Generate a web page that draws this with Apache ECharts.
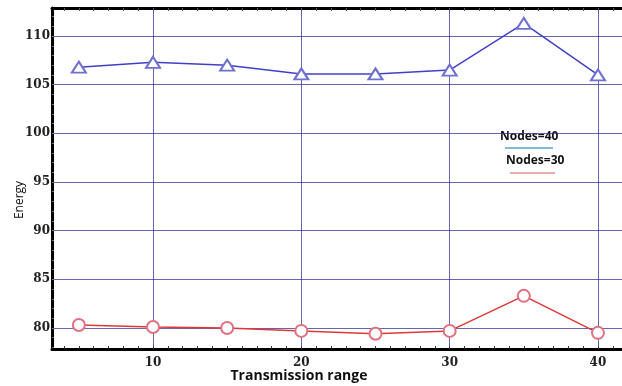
<!DOCTYPE html>
<html>
<head>
<meta charset="utf-8">
<script src="https://cdn.jsdelivr.net/npm/echarts@6/dist/echarts.min.js"></script>
<style>
  html, body { margin: 0; padding: 0; background: #fff; }
  #main { width: 622px; height: 386px; }
</style>
</head>
<body>
<div id="main"></div>
<script>
// transmission range on x, energy on y
var ranges = [5, 10, 15, 20, 25, 30, 35, 40];
var nodes40 = [106.8, 107.3, 107.0, 106.1, 106.1, 106.5, 111.3, 106.0];
var nodes30 = [80.3, 80.1, 80.0, 79.7, 79.4, 79.7, 83.3, 79.5];
var xTicks = [10, 20, 30, 40];
var yTicks = [80, 85, 90, 95, 100, 105, 110];

var xMin = 3.19, xMax = 41.62;
var yMin = 77.84, yMax = 112.88;

function range(a, b) {
    var out = [];
    for (var v = a; v <= b; v++) out.push(v);
    return out;
}
var xMinor = range(4, 41);
var yMinor = range(78, 112);

var serif = '"DejaVu Serif", serif';
var sans = '"Open Sans", Lato, sans-serif';
var gridColor = 'rgba(50, 50, 150, 0.75)';

function pairs(xs, ys) {
    return xs.map(function (x, i) { return [x, ys[i]]; });
}

var chart = echarts.init(document.getElementById('main'));
chart.setOption({
    animation: false,
    backgroundColor: '#fff',
    grid: { left: 52, top: 8, right: 0, bottom: 37, outerBoundsMode: 'none', containLabel: false },
    xAxis: [{
        type: 'value', min: xMin, max: xMax, position: 'bottom',
        axisLine: { onZero: false, lineStyle: { color: '#000', width: 3 } },
        axisTick: { inside: true, length: 3, customValues: xMinor, lineStyle: { color: '#333' } },
        axisLabel: { customValues: xTicks, margin: 8, fontFamily: serif, fontWeight: 'bold', fontSize: 12, color: '#222' },
        splitLine: { show: false }
    }, {
        type: 'value', min: xMin, max: xMax, position: 'top',
        axisLine: { onZero: false, lineStyle: { color: '#000', width: 3 } },
        axisTick: { inside: true, length: 3, customValues: xMinor, lineStyle: { color: '#555' } },
        axisLabel: { show: false },
        splitLine: { show: false }
    }, {
        type: 'value', min: xMin, max: xMax, position: 'bottom',
        axisLine: { show: false },
        axisTick: { show: false, customValues: xTicks },
        axisLabel: { show: false },
        splitLine: { show: true, lineStyle: { color: gridColor, width: 1 } }
    }],
    yAxis: [{
        type: 'value', min: yMin, max: yMax, position: 'left',
        axisLine: { onZero: false, lineStyle: { color: '#000', width: 3 } },
        axisTick: { inside: true, length: 2, customValues: yMinor, lineStyle: { color: '#777' } },
        axisLabel: { customValues: yTicks, margin: 2, fontFamily: serif, fontWeight: 'bold', fontSize: 12, color: '#222' },
        splitLine: { show: false }
    }, {
        type: 'value', min: yMin, max: yMax, position: 'right',
        axisLine: { show: false },
        axisTick: { show: false, customValues: yTicks },
        axisLabel: { show: false },
        splitLine: { show: true, lineStyle: { color: gridColor, width: 1 } }
    }],
    graphic: [
        { type: 'text', x: 20, y: 200, rotation: Math.PI / 2,
          style: { text: 'Energy', fontFamily: sans, fontSize: 12, fill: '#111', align: 'center', verticalAlign: 'middle' } },
        { type: 'text', x: 299, y: 376,
          style: { text: 'Transmission range', fontFamily: sans, fontWeight: 'bold', fontSize: 14, fill: '#111', align: 'center', verticalAlign: 'middle' } },
        { type: 'text', left: 500, top: 131, style: { text: 'Nodes=40', fontFamily: sans, fontWeight: 'bold', fontSize: 12, fill: '#111' } },
        { type: 'line', shape: { x1: 505, y1: 148, x2: 553, y2: 148 }, style: { stroke: '#4aa8c8', lineWidth: 1.5 } },
        { type: 'text', left: 506, top: 155, style: { text: 'Nodes=30', fontFamily: sans, fontWeight: 'bold', fontSize: 12, fill: '#111' } },
        { type: 'line', shape: { x1: 510, y1: 173, x2: 555, y2: 173 }, style: { stroke: '#e09090', lineWidth: 1.5 } }
    ],
    series: [{
        name: 'Nodes=40', type: 'line', xAxisIndex: 0, yAxisIndex: 0,
        data: pairs(ranges, nodes40),
        symbol: 'emptyTriangle', symbolSize: [14, 11],
        lineStyle: { color: '#4040c8', width: 1.5 },
        itemStyle: { color: '#7070d0', borderWidth: 1 }
    }, {
        name: 'Nodes=30', type: 'line', xAxisIndex: 0, yAxisIndex: 0,
        data: pairs(ranges, nodes30),
        symbol: 'emptyCircle', symbolSize: 12,
        lineStyle: { color: '#e03838', width: 1.5 },
        itemStyle: { color: '#e07080', borderWidth: 1 }
    }]
});
</script>
</body>
</html>
